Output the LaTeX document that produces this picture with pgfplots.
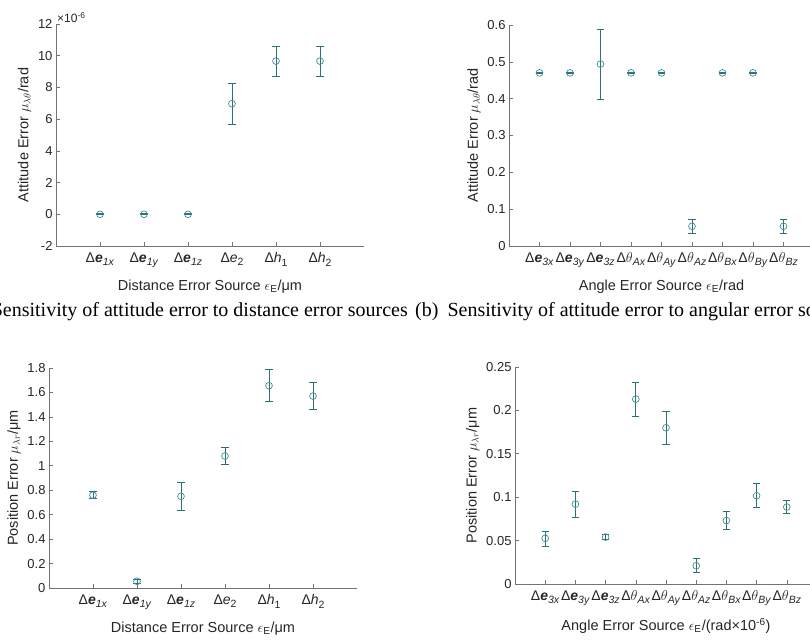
\documentclass[border=0pt]{standalone}
\usepackage{fontspec}
\setmainfont{Liberation Sans}
\newfontfamily\capfont{Liberation Serif}
\usepackage{pgfplots}
\pgfplotsset{compat=1.18}
\usepackage{pgfplotstable}

\definecolor{markc}{RGB}{62,140,150}
\definecolor{barc}{RGB}{44,112,120}
\definecolor{txtc}{RGB}{38,38,38}

% MATLAB-like subscript in tick labels
\newcommand{\sub}[1]{\raisebox{-3.5bp}{\fontsize{10.5bp}{11bp}\selectfont #1}}

% x  mean  +err  -err   (attitude error values are in units of 1e-6)
\pgfplotstableread{
x y ep em
1 0 0.03 0.03
2 0 0.03 0.03
3 0 0.03 0.03
4 6.97 1.30 1.28
5 9.66 0.95 0.95
6 9.66 0.95 0.95
}\distatt
\pgfplotstableread{
x y ep em
1 0.470 0.002 0.002
2 0.470 0.002 0.002
3 0.494 0.093 0.095
4 0.470 0.002 0.002
5 0.470 0.002 0.002
6 0.0535 0.018 0.018
7 0.470 0.002 0.002
8 0.470 0.002 0.002
9 0.0535 0.018 0.018
}\angatt
\pgfplotstableread{
x y ep em
1 0.760 0.028 0.030
2 0.055 0.018 0.018
3 0.750 0.115 0.117
4 1.080 0.070 0.070
5 1.655 0.135 0.125
6 1.570 0.110 0.110
}\distpos
\pgfplotstableread{
x y ep em
1 0.0526 0.0084 0.0088
2 0.0920 0.0150 0.0150
3 0.0540 0.0030 0.0030
4 0.2130 0.0196 0.0203
5 0.1800 0.0190 0.0195
6 0.0210 0.0080 0.0080
7 0.0730 0.0107 0.0104
8 0.1017 0.0143 0.0137
9 0.0887 0.0073 0.0069
}\angpos

\pgfplotsset{
  mstyle/.style={
    scale only axis, anchor=south west,
    axis x line*=bottom, axis y line*=left,
    axis line style={draw=black!55, line width=0.9bp, -},
    tick align=inside, major tick length=4bp,
    tick style={draw=black!55, line width=0.6bp},
    xmin=0, enlargelimits=false, clip=false,
    scaled ticks=false,
    /pgf/number format/assume math mode=true,
    yticklabel style={/pgf/number format/fixed, /pgf/number format/precision=2},
    tick label style={text=txtc, font=\fontsize{13bp}{15bp}\selectfont},
    xticklabel style={font=\fontsize{14bp}{15bp}\selectfont, yshift=-3bp},
    label style={text=txtc, font=\fontsize{14.5bp}{16bp}\selectfont},
    xlabel style={yshift=-5bp},
    xtick=data,
  },
  ebars/.style={
    only marks, mark=o, mark size=3.4bp, color=markc,
    mark options={line width=0.7bp},
    error bars/.cd, y dir=both, y explicit,
    error bar style={line width=0.8bp, color=barc},
    error mark options={rotate=90, mark size=3.6bp, line width=0.8bp, color=barc},
  },
}

\begin{document}
\begin{tikzpicture}
\useasboundingbox (0,0) rectangle (810bp,643bp);

% (a)
\begin{axis}[mstyle,
  at={(56bp,397bp)}, width=308bp, height=222bp,
  xmax=7, ymin=-2, ymax=12, ytick={-2,0,...,12},
  xticklabels={Δ\textbf{\textit{e}}\sub{\textit{1x}},
    Δ\textbf{\textit{e}}\sub{\textit{1y}},
    Δ\textbf{\textit{e}}\sub{\textit{1z}},
    Δ\textit{e}\sub{2}, Δ\textit{h}\sub{1}, Δ\textit{h}\sub{2}},
  xlabel={Distance Error Source $\epsilon$\textsubscript{E}/μm},
  ylabel={Attitude Error $\mu_{\lambda\theta}$/rad},
]
\addplot[ebars] table[x=x, y=y, y error plus=ep, y error minus=em] {\distatt};
\node[anchor=south west, text=txtc, font=\fontsize{12bp}{14bp}\selectfont, inner sep=1bp]
  at (rel axis cs:0,1) {×10\textsuperscript{-6}};
\end{axis}

% (b)
\begin{axis}[mstyle,
  at={(509bp,397bp)}, width=305bp, height=221bp,
  xmax=10, ymin=0, ymax=0.6, ytick={0,0.1,...,0.6},
  xticklabels={Δ\textbf{\textit{e}}\sub{\textit{3x}},
    Δ\textbf{\textit{e}}\sub{\textit{3y}},
    Δ\textbf{\textit{e}}\sub{\textit{3z}},
    Δ$\theta$\sub{\textit{Ax}}, Δ$\theta$\sub{\textit{Ay}},
    Δ$\theta$\sub{\textit{Az}}, Δ$\theta$\sub{\textit{Bx}},
    Δ$\theta$\sub{\textit{By}}, Δ$\theta$\sub{\textit{Bz}}},
  xticklabel style={inner xsep=0pt},
  xlabel={Angle Error Source $\epsilon$\textsubscript{E}/rad},
  ylabel={Attitude Error $\mu_{\lambda\theta}$/rad},
]
\addplot[ebars] table[x=x, y=y, y error plus=ep, y error minus=em] {\angatt};
\end{axis}

% (c)
\begin{axis}[mstyle,
  at={(49bp,55bp)}, width=308bp, height=220bp,
  xmax=7, ymin=0, ymax=1.8, ytick={0,0.2,...,1.8},
  xticklabels={Δ\textbf{\textit{e}}\sub{\textit{1x}},
    Δ\textbf{\textit{e}}\sub{\textit{1y}},
    Δ\textbf{\textit{e}}\sub{\textit{1z}},
    Δ\textit{e}\sub{2}, Δ\textit{h}\sub{1}, Δ\textit{h}\sub{2}},
  xlabel={Distance Error Source $\epsilon$\textsubscript{E}/μm},
  ylabel={Position Error $\mu_{\lambda r}$/μm},
]
\addplot[ebars] table[x=x, y=y, y error plus=ep, y error minus=em] {\distpos};
\end{axis}

% (d)
\begin{axis}[mstyle,
  at={(515bp,59bp)}, width=302bp, height=217bp,
  xmax=10, ymin=0, ymax=0.25, ytick={0,0.05,0.1,0.15,0.2,0.25},
  xticklabels={Δ\textbf{\textit{e}}\sub{\textit{3x}},
    Δ\textbf{\textit{e}}\sub{\textit{3y}},
    Δ\textbf{\textit{e}}\sub{\textit{3z}},
    Δ$\theta$\sub{\textit{Ax}}, Δ$\theta$\sub{\textit{Ay}},
    Δ$\theta$\sub{\textit{Az}}, Δ$\theta$\sub{\textit{Bx}},
    Δ$\theta$\sub{\textit{By}}, Δ$\theta$\sub{\textit{Bz}}},
  xticklabel style={inner xsep=0pt},
  xlabel={Angle Error Source $\epsilon$\textsubscript{E}/(rad×10\textsuperscript{-6})},
  ylabel={Position Error $\mu_{\lambda r}$/μm},
]
\addplot[ebars] table[x=x, y=y, y error plus=ep, y error minus=em] {\angpos};
\end{axis}

% sub-captions (cut by the page edges, as in the reference)
\node[anchor=base east, font=\capfont\fontsize{20bp}{22bp}\selectfont, inner sep=0pt]
  at (408bp,326bp) {(a) Sensitivity of attitude error to distance error sources};
\node[anchor=base west, font=\capfont\fontsize{20bp}{22bp}\selectfont, inner sep=0pt]
  at (415bp,326bp) {(b)\hspace{0.45em}Sensitivity of attitude error to angular error sources};
\end{tikzpicture}
\end{document}
